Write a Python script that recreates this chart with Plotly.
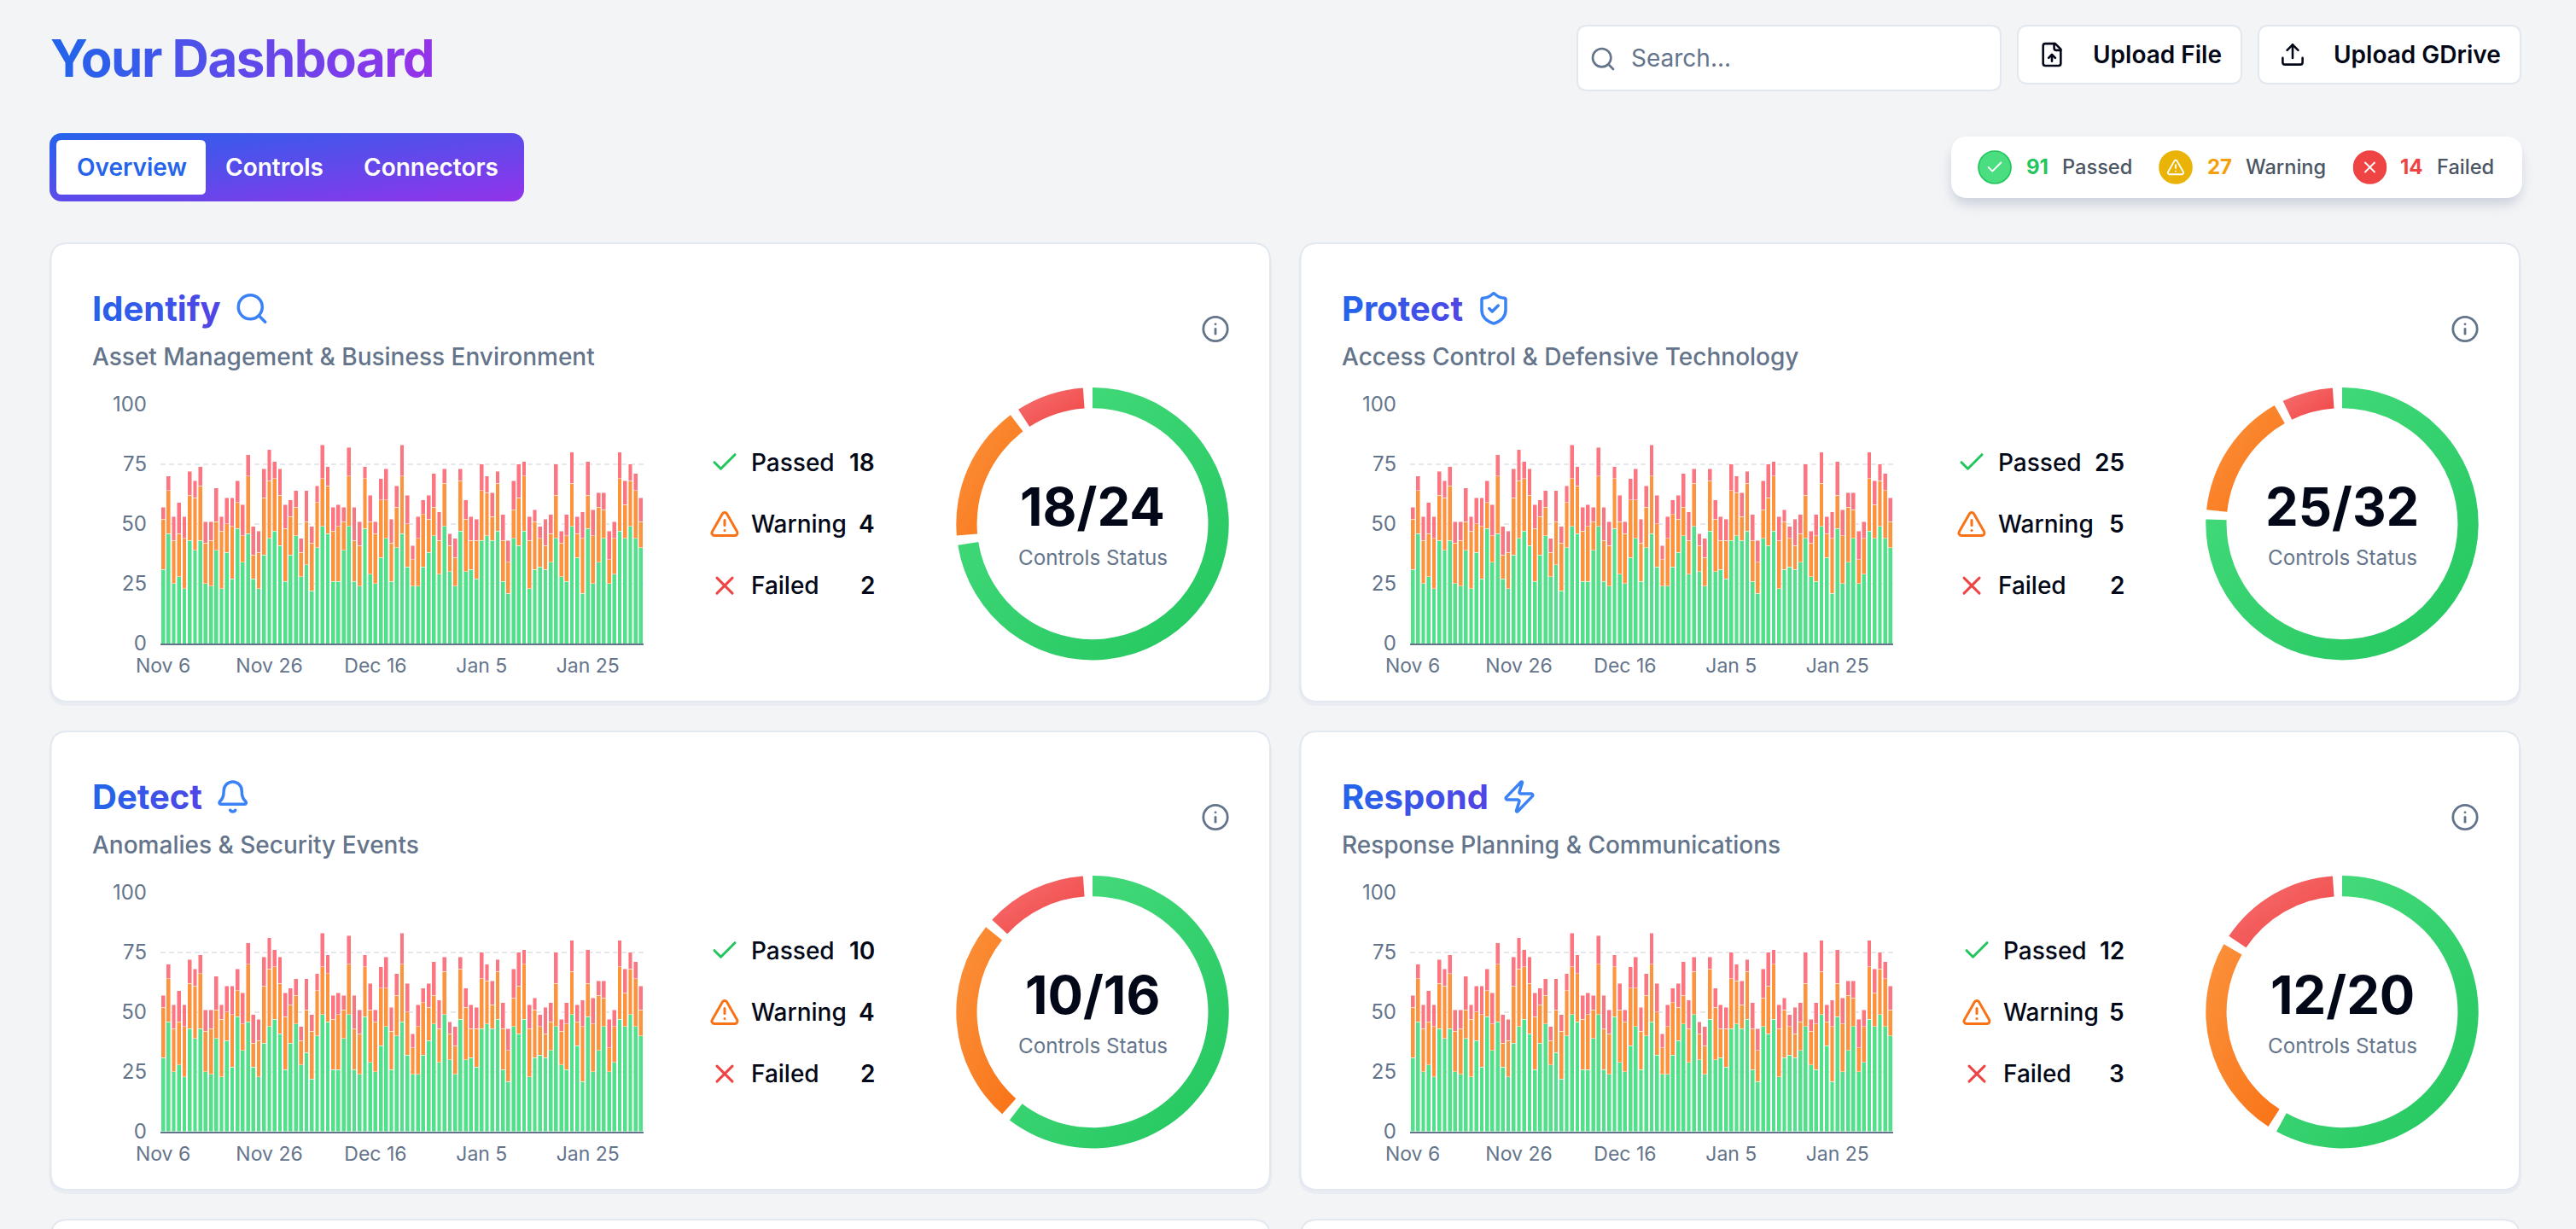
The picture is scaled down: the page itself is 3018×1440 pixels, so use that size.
import base64
import plotly.graph_objects as go

W, H = 3018, 1440
BG = "#f3f4f6"
FONT = "Inter"

# ---- data ----
DATES = ["Nov 6", "Nov 7", "Nov 8", "Nov 9", "Nov 10", "Nov 11", "Nov 12", "Nov 13", "Nov 14", "Nov 15",
         "Nov 16", "Nov 17", "Nov 18", "Nov 19", "Nov 20", "Nov 21", "Nov 22", "Nov 23", "Nov 24", "Nov 25",
         "Nov 26", "Nov 27", "Nov 28", "Nov 29", "Nov 30", "Dec 1", "Dec 2", "Dec 3", "Dec 4", "Dec 5",
         "Dec 6", "Dec 7", "Dec 8", "Dec 9", "Dec 10", "Dec 11", "Dec 12", "Dec 13", "Dec 14", "Dec 15",
         "Dec 16", "Dec 17", "Dec 18", "Dec 19", "Dec 20", "Dec 21", "Dec 22", "Dec 23", "Dec 24", "Dec 25",
         "Dec 26", "Dec 27", "Dec 28", "Dec 29", "Dec 30", "Dec 31", "Jan 1", "Jan 2", "Jan 3", "Jan 4",
         "Jan 5", "Jan 6", "Jan 7", "Jan 8", "Jan 9", "Jan 10", "Jan 11", "Jan 12", "Jan 13", "Jan 14",
         "Jan 15", "Jan 16", "Jan 17", "Jan 18", "Jan 19", "Jan 20", "Jan 21", "Jan 22", "Jan 23", "Jan 24",
         "Jan 25", "Jan 26", "Jan 27", "Jan 28", "Jan 29", "Jan 30", "Jan 31", "Feb 1", "Feb 2", "Feb 3", "Feb 4"]
TICK_DATES = ["Nov 6", "Nov 26", "Dec 16", "Jan 5", "Jan 25"]
Y_TICKS = [0, 25, 50, 75, 100]
PASSED_TOP = [31, 46, 25, 28, 23, 43, 39, 43, 25, 24, 39, 23, 38, 27, 48, 34, 46, 27, 23, 37,
              44, 47, 41, 26, 37, 45, 28, 33, 22, 40, 49, 46, 26, 26, 39, 49, 26, 24, 48, 29,
              25, 36, 44, 26, 40, 46, 32, 24, 24, 32, 38, 45, 29, 49, 30, 24, 47, 30, 31, 27,
              43, 45, 43, 47, 26, 21, 44, 41, 47, 23, 31, 32, 31, 34, 44, 28, 26, 49, 36, 21,
              48, 25, 34, 44, 25, 29, 47, 44, 49, 44, 40]
WARNING_TOP = [52, 64, 43, 46, 44, 62, 61, 66, 42, 43, 51, 47, 50, 49, 59, 45, 70, 37, 38, 61,
               68, 69, 62, 48, 53, 57, 38, 51, 42, 59, 69, 66, 47, 49, 51, 70, 43, 41, 69, 51,
               46, 60, 60, 42, 57, 70, 50, 35, 44, 54, 52, 57, 43, 67, 41, 36, 68, 52, 43, 43,
               64, 63, 53, 67, 43, 34, 56, 61, 70, 43, 51, 44, 41, 46, 62, 42, 45, 67, 46, 44,
               62, 45, 57, 56, 35, 44, 69, 58, 68, 64, 51]
FAILED_TOP = [57, 70, 53, 59, 53, 72, 68, 74, 51, 51, 65, 53, 61, 61, 68, 58, 79, 49, 47, 73,
              81, 76, 73, 58, 60, 64, 44, 64, 49, 66, 83, 74, 57, 58, 57, 82, 57, 51, 74, 62,
              51, 69, 73, 52, 66, 83, 62, 41, 53, 60, 62, 71, 55, 73, 46, 44, 73, 60, 53, 52,
              75, 70, 63, 72, 54, 43, 68, 75, 76, 53, 56, 49, 52, 54, 75, 47, 54, 80, 53, 55,
              76, 56, 63, 63, 47, 51, 80, 68, 75, 71, 61]
PASSED = PASSED_TOP
WARNING = [b - a for a, b in zip(PASSED_TOP, WARNING_TOP)]
FAILED = [c - b for b, c in zip(WARNING_TOP, FAILED_TOP)]

CARD_TITLES = ["Identify", "Protect", "Detect", "Respond"]
CARD_SUBTITLES = ["Asset Management & Business Environment", "Access Control & Defensive Technology",
                  "Anomalies & Security Events", "Response Planning & Communications"]
CARD_PASSED = [18, 25, 10, 12]
CARD_WARNING = [4, 5, 4, 5]
CARD_FAILED = [2, 2, 2, 3]
CARD_TOTAL = [24, 32, 16, 20]
TOTALS = {"Passed": 91, "Warning": 27, "Failed": 14}

# ---- helpers ----
def X(p): return p / W
def Y(p): return 1 - p / H

def hexmix(a, b, t):
    a = [int(a[i:i + 2], 16) for i in (1, 3, 5)]
    b = [int(b[i:i + 2], 16) for i in (1, 3, 5)]
    return "#%02x%02x%02x" % tuple(round(u + (v - u) * t) for u, v in zip(a, b))

def gradient_text(s, c0, c1):
    n = max(len(s) - 1, 1)
    return "".join('<span style="color:%s">%s</span>' % (hexmix(c0, c1, i / n), ch) for i, ch in enumerate(s))

shapes, annos, images = [], [], []

def rrect(x0, y0, x1, y1, r, fill, line=None, lw=0):
    xs, ys = X, Y
    p = ("M{a},{t} L{b},{t} Q{c},{t} {c},{e} L{c},{f} Q{c},{d} {b},{d} L{a},{d} Q{g},{d} {g},{f} L{g},{e} Q{g},{t} {a},{t} Z"
         .format(a=xs(x0 + r), b=xs(x1 - r), c=xs(x1), g=xs(x0), t=ys(y0), d=ys(y1), e=ys(y0 + r), f=ys(y1 - r)))
    shapes.append(dict(type="path", path=p, xref="paper", yref="paper", layer="below", fillcolor=fill,
                       line=dict(color=line or "rgba(0,0,0,0)", width=lw)))

def text(x, y, s, size, color, weight=400, anchor="left"):
    annos.append(dict(x=X(x), y=Y(y), xref="paper", yref="paper", text=s, showarrow=False, xanchor=anchor,
                      align=anchor, yanchor="middle", borderpad=0, borderwidth=0,
                      font=dict(family=FONT, size=size, color=color, weight=weight)))

def svg_image(svg, x0, y0, w, h, layer="above"):
    src = "data:image/svg+xml;base64," + base64.b64encode(svg.encode()).decode()
    images.append(dict(source=src, xref="paper", yref="paper", x=X(x0), y=Y(y0), sizex=w / W, sizey=h / H,
                       xanchor="left", yanchor="top", sizing="stretch", layer=layer))

ICONS = {
    "search": '<circle cx="11" cy="11" r="8"/><path d="m21 21-4.3-4.3"/>',
    "shield": '<path d="M20 13c0 5-3.5 7.5-7.66 8.95a1 1 0 0 1-.67-.01C7.5 20.5 4 18 4 13V6a1 1 0 0 1 1-1c2 0 4.5-1.2 6.24-2.72a1.17 1.17 0 0 1 1.52 0C14.51 3.81 17 5 19 5a1 1 0 0 1 1 1z"/><path d="m9 12 2 2 4-4"/>',
    "bell": '<path d="M10.268 21a2 2 0 0 0 3.464 0"/><path d="M3.262 15.326A1 1 0 0 0 4 17h16a1 1 0 0 0 .74-1.673C19.41 13.956 18 12.499 18 8A6 6 0 0 0 6 8c0 4.499-1.411 5.956-2.738 7.326"/>',
    "zap": '<path d="M4 14a1 1 0 0 1-.78-1.63l9.9-10.2a.5.5 0 0 1 .86.46l-1.92 6.02A1 1 0 0 0 13 10h7a1 1 0 0 1 .78 1.63l-9.9 10.2a.5.5 0 0 1-.86-.46l1.92-6.02A1 1 0 0 0 11 14z"/>',
    "alert": '<path d="m21.73 18-8-14a2 2 0 0 0-3.48 0l-8 14A2 2 0 0 0 4 21h16a2 2 0 0 0 1.73-3"/><path d="M12 9v4"/><path d="M12 17h.01"/>',
    "check": '<path d="M20 6 9 17l-5-5"/>',
    "x": '<path d="M18 6 6 18"/><path d="m6 6 12 12"/>',
    "info": '<circle cx="12" cy="12" r="10"/><path d="M12 16v-4"/><path d="M12 8h.01"/>',
    "upload": '<path d="M21 15v4a2 2 0 0 1-2 2H5a2 2 0 0 1-2-2v-4"/><path d="M17 8 12 3 7 8"/><path d="M12 3v12"/>',
    "file": '<path d="M15 2H6a2 2 0 0 0-2 2v16a2 2 0 0 0 2 2h12a2 2 0 0 0 2-2V7Z"/><path d="M14 2v4a2 2 0 0 0 2 2h4"/><path d="M12 12v6"/><path d="m15 15-3-3-3 3"/>',
}

def icon(name, cx, cy, size, color, sw=2):
    svg = ('<svg xmlns="http://www.w3.org/2000/svg" width="{s}" height="{s}" viewBox="0 0 24 24" fill="none" stroke="{c}" '
           'stroke-width="{w}" stroke-linecap="round" stroke-linejoin="round">{b}</svg>').format(
        s=size * 3, c=color, w=sw, b=ICONS[name])
    svg_image(svg, cx - size / 2, cy - size / 2, size, size)

# ---- page chrome ----
text(59, 68, gradient_text("Your Dashboard", "#2563eb", "#9333ea"), 60, "#2563eb", 700)

rrect(1848, 30, 2344, 106, 12, "#ffffff", "#e2e8f0", 2)
icon("search", 1878, 69, 32, "#64748b")
text(1911, 68, "Search...", 28, "#64748b", 400)
rrect(2364, 30, 2626, 98, 12, "#ffffff", "#e2e8f0", 2)
icon("file", 2404, 64, 31, "#020817")
text(2451.5, 64, "Upload File", 28, "#020817", 600)
rrect(2646, 30, 2953, 98, 12, "#ffffff", "#e2e8f0", 2)
icon("upload", 2686, 64, 31, "#020817")
text(2733.5, 64, "Upload GDrive", 28, "#020817", 600)

# tab bar
svg_image('<svg xmlns="http://www.w3.org/2000/svg" width="556" height="80"><defs><linearGradient id="g" x1="0" y1="0" x2="1" y2="1">'
          '<stop offset="0" stop-color="#2563eb"/><stop offset="1" stop-color="#9333ea"/></linearGradient></defs>'
          '<rect width="556" height="80" rx="14" fill="url(#g)"/></svg>', 58, 156, 556, 80, "below")
rrect(66, 164, 241, 228, 6, "#ffffff")
text(154, 196, "Overview", 28, "#2563eb", 600, "center")
text(321.5, 196, "Controls", 28, "#ffffff", 600, "center")
text(504.5, 196, "Connectors", 28, "#ffffff", 600, "center")

# status pill
svg_image('<svg xmlns="http://www.w3.org/2000/svg" width="720" height="130"><defs><filter id="b" x="-10%" y="-40%" width="120%" height="180%">'
          '<feGaussianBlur stdDeviation="7"/></filter></defs>'
          '<rect x="26" y="34" width="668" height="70" rx="20" fill="#94a3b8" fill-opacity="0.42" filter="url(#b)"/></svg>',
          2260, 136, 720, 130, "below")
rrect(2286, 160, 2955, 232, 20, "#ffffff")
PILL = [("Passed", "check", 2337, 2373.5, 2415.5, "#4ade80", "#22c55e", "#22c55e"),
        ("Warning", "alert", 2549, 2586, 2630.5, "#eab308", "#eab308", "#f59e0b"),
        ("Failed", "x", 2776.5, 2812, 2854.5, "#ef4444", "#ef4444", "#ef4444")]
for label, ic, cx, nx, lx, fill, edge, numc in PILL:
    svg_image('<svg xmlns="http://www.w3.org/2000/svg" width="120" height="120"><circle cx="60" cy="60" r="57" fill="{f}" stroke="{e}" stroke-width="5"/></svg>'.format(f=fill, e=edge),
              cx - 20, 176, 40, 40)
    icon(ic, cx, 196, 22, "#ffffff")
    text(nx, 196, str(TOTALS[label]), 24, numc, 700)
    text(lx, 196, label, 23.6, "#4b5563", 500)

# ---- cards ----
COLS = [0, 1464]
ROWS = [0, 572]
TITLE_ICONS = [("search", 295), ("shield", 1750 - 1464), ("bell", 272.7), ("zap", 1780 - 1464)]
LEG_SHIFT = [0, -3, 0, 3]

fig = go.Figure()
axis_i = 0
for r in ROWS + [1144]:
    for c in COLS:
        # soft drop shadow strip + card body
        rrect(57.5 + c, 287 + r, 1490 + c, 827 + r, 22, "#e9ecf1")
        rrect(59.5 + c, 285 + r, 1488 + c, 822 + r, 20, "#ffffff", "#e2e8f0", 2)

for i, title in enumerate(CARD_TITLES):
    dx, dy = COLS[i % 2], ROWS[i // 2]
    text(108 + dx, 361 + dy, gradient_text(title, "#2563eb", "#4f46e5"), 40, "#2563eb", 700)
    name, ix = TITLE_ICONS[i]
    icon(name, ix + dx, 361.5 + dy, 42, "#3b82f6")
    text(108 + dx, 418 + dy, CARD_SUBTITLES[i], 28, "#64748b", 500)
    icon("info", 1424 + dx, 385.5 + dy, 34, "#64748b")

    # stacked bars
    axis_i += 1
    xa, ya = "x%d" % axis_i, "y%d" % axis_i
    for vals, col, nm in ((PASSED, "#53e08a", "Passed"), (WARNING, "#fd933d", "Warning"), (FAILED, "#fb7680", "Failed")):
        fig.add_trace(go.Bar(x=DATES, y=vals, name=nm,
                             marker=dict(color=col, line=dict(width=0.7, color="rgba(255,255,255,0.65)")),
                             xaxis=xa, yaxis=ya, showlegend=False, hoverinfo="skip"))
    key = "" if axis_i == 1 else str(axis_i)
    fig.layout["xaxis" + key] = dict(domain=[X(188 + dx), X(754 + dx)], type="category", categoryorder="array",
                                     categoryarray=DATES, range=[-0.5, 90.5], tickvals=TICK_DATES, ticktext=TICK_DATES,
                                     showgrid=False, ticks="", zeroline=False, showline=True, linecolor="#64748b",
                                     linewidth=2, anchor=ya, tickangle=0, ticklabelstandoff=4,
                                     tickfont=dict(family=FONT, size=23, color="#64748b"))
    fig.layout["yaxis" + key] = dict(domain=[Y(754 + dy), Y(473.7 + dy)], range=[0, 100], tickvals=Y_TICKS,
                                     showgrid=True, gridcolor="#e5e7eb", gridwidth=2, griddash="6px,4px", ticks="",
                                     zeroline=False, showline=False, anchor=xa, ticklabelstandoff=15,
                                     tickfont=dict(family=FONT, size=24, color="#64748b"))

    # legend list
    s = LEG_SHIFT[i]
    for row, (lab, ic, ic_col, val) in enumerate((("Passed", "check", "#22c55e", CARD_PASSED[i]),
                                                  ("Warning", "alert", "#f97316", CARD_WARNING[i]),
                                                  ("Failed", "x", "#ef4444", CARD_FAILED[i]))):
        yy = 541.7 + 72.2 * row + dy
        icon(ic, 849 + s + dx, yy, 36, ic_col)
        text(880 + s + dx, yy, lab, 28, "#020817", 500)
        text(1024.5 + dx, yy, str(val), 28, "#020817", 600, "right")

    # donut
    cx, cy, R = 1280 + dx, 613.7 + dy, 159.7
    pad = 4
    usable = 360 - 3 * pad
    tot = CARD_TOTAL[i]
    vals = [CARD_PASSED[i] / tot * usable, pad, CARD_WARNING[i] / tot * usable, pad, CARD_FAILED[i] / tot * usable, pad]
    fig.add_trace(go.Pie(values=vals, labels=["Passed", "gap1", "Warning", "gap2", "Failed", "gap3"], sort=False,
                         direction="clockwise", rotation=0, hole=0.848, textinfo="none", hoverinfo="skip",
                         showlegend=False, domain=dict(x=[X(cx - R), X(cx + R)], y=[Y(cy + R), Y(cy - R)]),
                         marker=dict(colors=["#34d46f", "rgba(0,0,0,0)", "#f98430", "rgba(0,0,0,0)", "#f56565", "rgba(0,0,0,0)"],
                                     line=dict(width=0))))
    text(cx, 593 + dy, "%d/%d" % (CARD_PASSED[i], tot), 61.5, "#020817", 700, "center")
    text(cx, 653 + dy, "Controls Status", 24.2, "#64748b", 400, "center")

fig.update_layout(width=W, height=H, margin=dict(l=0, r=0, t=0, b=0, pad=0, autoexpand=False), paper_bgcolor=BG, plot_bgcolor="rgba(0,0,0,0)",
                  barmode="stack", bargap=0.22, showlegend=False, shapes=shapes, annotations=annos, images=images,
                  font=dict(family=FONT), autosize=False)

POST = """
document.documentElement.style.margin='0';document.body.style.margin='0';document.body.style.overflow='hidden';
var gd=document.getElementsByClassName('plotly-graph-div')[0];
var svg=gd.querySelector('.main-svg');
var NS='http://www.w3.org/2000/svg';
var defs=document.createElementNS(NS,'defs');
var G={gp:['#4ade80','#22c55e'],go:['#fb923c','#f97316'],gr:['#f87171','#ef4444']};
for(var k in G){var lg=document.createElementNS(NS,'linearGradient');lg.setAttribute('id',k);
 lg.setAttribute('x1','0');lg.setAttribute('y1','0');lg.setAttribute('x2','1');lg.setAttribute('y2','1');
 [0,1].forEach(function(j){var st=document.createElementNS(NS,'stop');st.setAttribute('offset',String(j));st.setAttribute('stop-color',G[k][j]);lg.appendChild(st);});
 defs.appendChild(lg);}
svg.insertBefore(defs,svg.firstChild);
var names=['url(#gp)',null,'url(#go)',null,'url(#gr)',null];
gd.querySelectorAll('.pielayer .trace').forEach(function(t){t.querySelectorAll('.slice').forEach(function(s,i){
 if(names[i]){var p=s.querySelector('path.surface');if(p)p.style.fill=names[i];}});});
var tt=gd.querySelector('.annotation-text');if(tt)tt.style.letterSpacing='-1.5px';
"""
fig.write_html("out.html", config=dict(displayModeBar=False, responsive=False), post_script=POST)
